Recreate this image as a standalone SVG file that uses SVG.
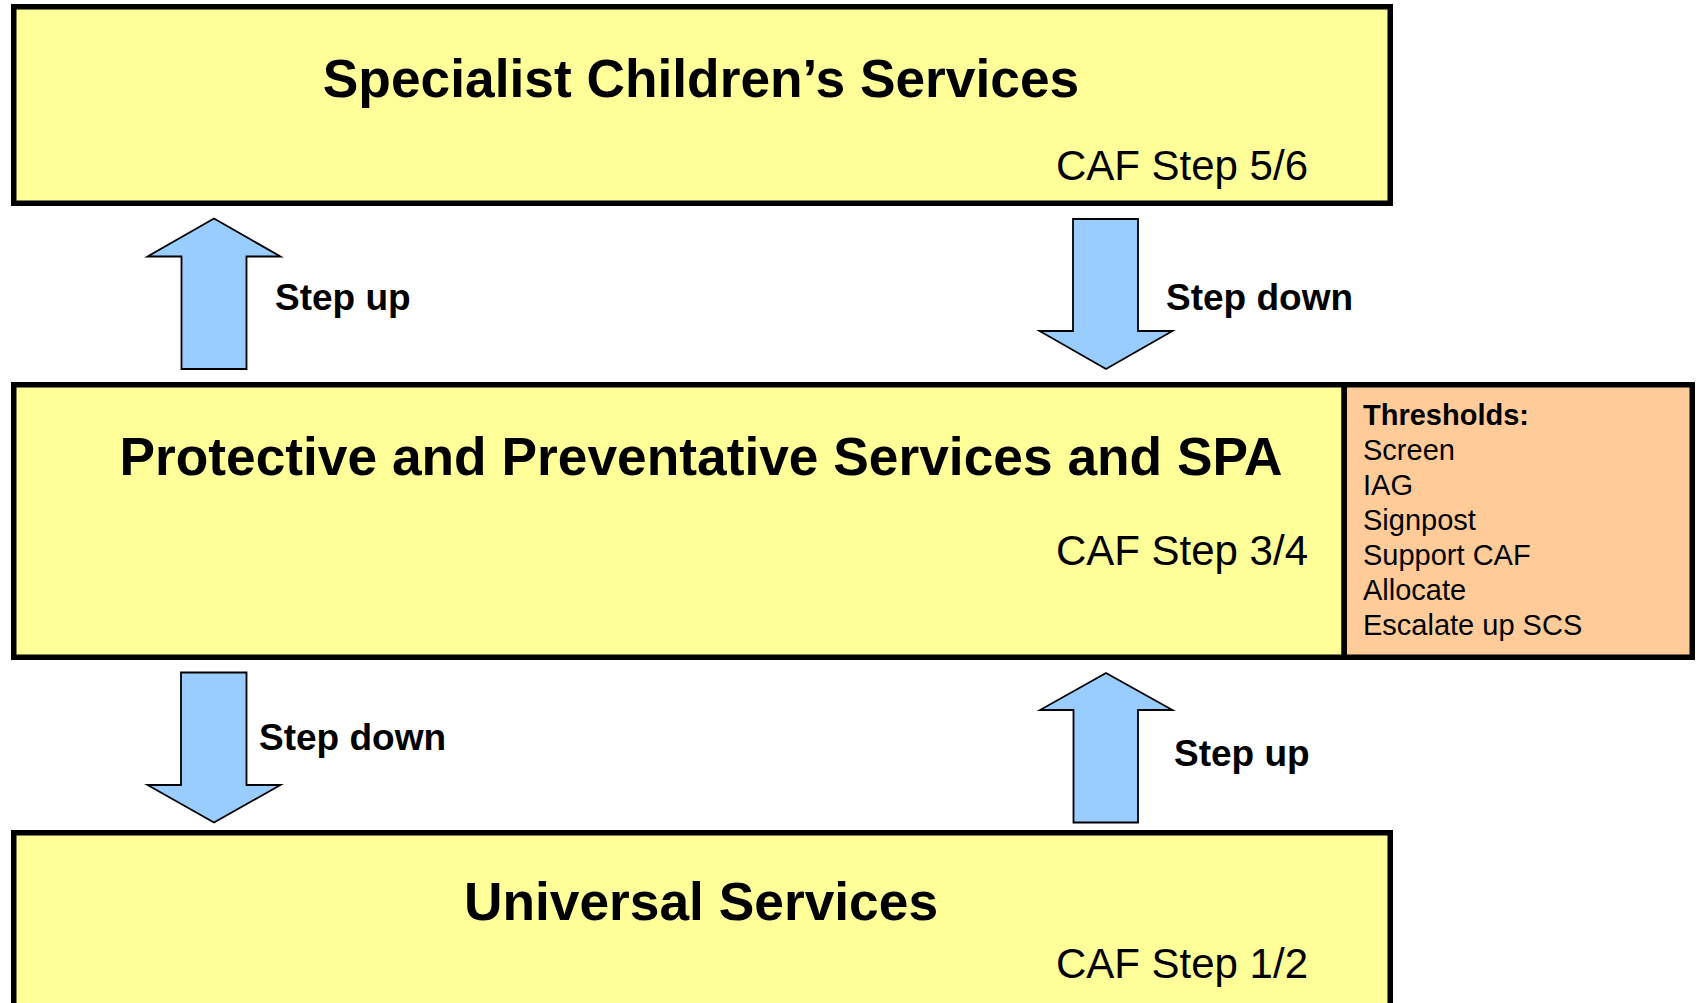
<svg xmlns="http://www.w3.org/2000/svg" width="1698" height="1003" viewBox="0 0 1698 1003">
  <style>
    .box { fill: #FFFF99; stroke: #000; stroke-width: 5.5; }
    .thr { fill: #FFCC99; stroke: #000; stroke-width: 5.5; }
    .arrow { fill: #99CCFF; stroke: #000; stroke-width: 1.8; stroke-linejoin: miter; }
    .title { font-family: "Liberation Sans", Arial, sans-serif; font-weight: bold; font-size: 53.3px; fill: #000; text-anchor: middle; }
    .caf { font-family: "Liberation Sans", Arial, sans-serif; font-size: 42px; fill: #000; text-anchor: end; }
    .lbl { font-family: "Liberation Sans", Arial, sans-serif; font-weight: bold; font-size: 37px; fill: #000; }
    .th { font-family: "Liberation Sans", Arial, sans-serif; font-size: 29px; fill: #000; }
  </style>
  <rect width="1698" height="1003" fill="#fff"/>

  <g id="specialist">
    <rect class="box" x="13.75" y="6.75" width="1376.5" height="196.5"/>
    <text class="title" x="701" y="97">Specialist Children’s Services</text>
    <text class="caf" x="1308" y="180">CAF Step 5/6</text>
  </g>

  <g id="protective">
    <rect class="box" x="13.75" y="384.75" width="1330.5" height="272.5"/>
    <text class="title" x="701" y="475">Protective and Preventative Services and SPA</text>
    <text class="caf" x="1308" y="565">CAF Step 3/4</text>
  </g>

  <g id="thresholds">
    <rect class="thr" x="1344.25" y="384.75" width="348" height="272.5"/>
    <text class="th" x="1363" y="425" font-weight="bold">Thresholds:</text>
    <text class="th" x="1363" y="460">Screen</text>
    <text class="th" x="1363" y="495">IAG</text>
    <text class="th" x="1363" y="530">Signpost</text>
    <text class="th" x="1363" y="565">Support CAF</text>
    <text class="th" x="1363" y="600">Allocate</text>
    <text class="th" x="1363" y="635">Escalate up SCS</text>
  </g>

  <g id="universal">
    <rect class="box" x="13.75" y="832.75" width="1376.5" height="200"/>
    <text class="title" x="701" y="920">Universal Services</text>
    <text class="caf" x="1308" y="978">CAF Step 1/2</text>
  </g>

  <g id="connectors">
    <polygon class="arrow" points="214,218.5 280.5,256.5 246.5,256.5 246.5,369 181.5,369 181.5,256.5 147.5,256.5"/>
    <text class="lbl" x="275" y="310">Step up</text>

    <polygon class="arrow" points="1073,219 1138,219 1138,331 1172.5,331 1106,369 1039.5,331 1073,331"/>
    <text class="lbl" x="1166" y="310">Step down</text>

    <polygon class="arrow" points="181,672.5 246.5,672.5 246.5,785 280.5,785 214,822.5 147.5,785 181,785"/>
    <text class="lbl" x="259" y="750">Step down</text>

    <polygon class="arrow" points="1106,673 1172.5,710 1138,710 1138,822.5 1073.5,822.5 1073.5,710 1040,710"/>
    <text class="lbl" x="1174" y="766">Step up</text>
  </g>
</svg>
